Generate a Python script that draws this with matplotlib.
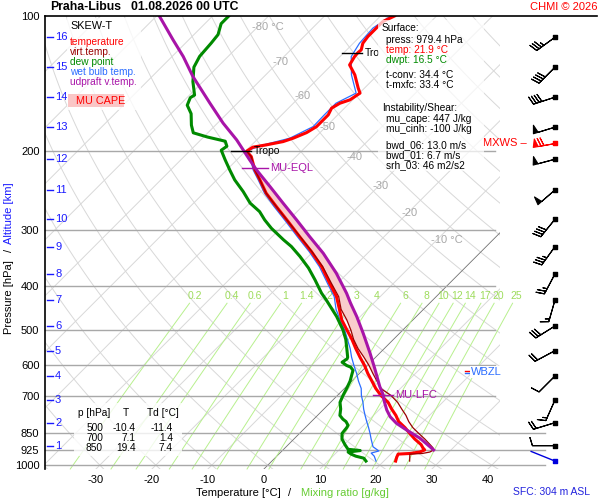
import numpy as np
import matplotlib
matplotlib.use("Agg")
import matplotlib.pyplot as plt
from matplotlib.patches import Rectangle
from matplotlib.transforms import blended_transform_factory

plt.rcParams['font.family'] = ['Liberation Sans', 'DejaVu Sans']

# --- sounding, hPa / degC ---
temp_p = [979.4, 960, 945, 942, 935, 925, 915, 900, 875, 850, 825, 800, 775, 750, 725, 700,
          675, 650, 625, 600, 575, 550, 525, 500, 475, 450, 421.6, 393.6, 361.5, 334.7, 309.9,
          287.0, 265.7, 248.1, 231.7, 220.1, 205.6, 200, 195.9, 193.6, 190.4, 187.1, 181.8,
          176.3, 170.3, 166.0, 160.4, 156.4, 153.7, 148.5, 144.8, 135.2, 128.5, 123.1, 120.6,
          119.0, 115.0, 111.1, 106.4, 102.9, 100]
temp_t = [22.1, 21.6, 21.3, 23.3, 24.8, 25.3, 24.6, 23.7, 21.6, 19.7, 17.8, 15.6, 14.0, 12.1,
          10.3, 7.8, 5.6, 3.6, 1.5, -0.5, -2.8, -5.1, -7.4, -10.0, -12.7, -15.0, -17.8, -21.4,
          -25.8, -30.3, -35.1, -39.8, -44.6, -48.8, -52.3, -55.0, -58.0, -59.8, -59.4, -57.4,
          -55.0, -53.8, -52.4, -51.7, -51.7, -51.7, -52.3, -51.7, -50.5, -49.9, -51.1, -54.1,
          -56.8, -57.4, -57.5, -57.4, -58.3, -58.6, -58.6, -58.6, -57.5]

tv_p = [979.4, 945, 942, 935, 925, 915, 900, 875, 850, 825, 800, 775, 750, 725, 700, 675, 650,
        625, 600, 575, 550, 525, 500, 475, 450, 421.6, 393.6, 361.5, 334.7, 309.9, 287.0, 265.7,
        248.1, 231.7, 220.1, 205.6, 200]
tv_t = [24.6, 23.4, 25.5, 26.6, 26.9, 26.4, 25.3, 23.4, 21.3, 19.2, 17.4, 15.8, 13.9, 12.0, 9.6,
        6.5, 4.5, 2.4, 0.3, -2.1, -4.7, -7.1, -9.3, -11.8, -14.7, -17.4, -21.1, -25.6, -30.2,
        -35.0, -39.8, -44.6, -48.8, -52.3, -55.0, -58.0, -59.8]

dwpt_p = [979.4, 965, 955, 945, 935, 928, 922, 900, 875, 850, 825, 815, 800, 790, 775, 750, 725,
          700, 675, 650, 625, 615, 605, 600, 590, 580, 575, 550, 525, 500, 467, 429, 414, 387,
          364, 343, 326, 315, 297, 284.5, 272.6, 261, 246, 231.7, 220, 209, 199, 195, 190, 186,
          182, 175, 165, 158, 152, 150, 140, 130, 123, 115, 110, 104, 100]
dwpt_t = [16.8, 15.9, 14.1, 12.9, 12.0, 13.9, 11.5, 10.1, 8.6, 7.6, 7.4, 7.2, 6.2, 5.2, 4.0, 3.0,
          1.7, 1.0, 0.4, -0.3, -1.3, -1.7, -2.7, -3.7, -5.1, -4.8, -5.0, -6.7, -8.5, -10.7, -14.2,
          -19.0, -21.1, -24.6, -27.9, -31.5, -34.8, -37.4, -41.6, -44.3, -46.7, -49.9, -53.2,
          -56.8, -59.5, -62.1, -64.5, -64.2, -65.4, -69.3, -72.6, -74.3, -76.4, -78.6, -79.4,
          -79.1, -81.8, -84.2, -85.1, -85.4, -85.7, -87.1, -87.1]

wetb_p = [979.4, 955, 940, 930, 910, 875, 850, 825, 800, 775, 750, 725, 700, 675, 650, 625, 600,
          575, 550, 525, 500, 475, 450, 421.6, 393.6, 361.5, 334.7, 309.9, 287.0, 265.7, 248.1,
          231.7, 220.1, 205.6, 200, 193.6, 187.1, 176.3, 166.0, 156.4, 148.5, 135.2, 123.1,
          115.0, 106.4, 100]
wetb_t = [18.6, 17.4, 16.3, 17.3, 15.5, 13.8, 12.6, 11.3, 9.9, 8.5, 7.1, 5.8, 4.3, 3.0, 1.2,
          -0.5, -2.4, -4.3, -6.1, -8.2, -10.4, -13.0, -15.6, -18.2, -21.8, -26.2, -30.7, -35.5,
          -40.2, -45.0, -49.1, -52.6, -55.3, -58.2, -60.0, -57.9, -54.4, -52.3, -52.4, -52.4,
          -50.6, -54.7, -58.0, -58.9, -59.2, -58.2]

# most unstable parcel, virtual temperature
parc_p = [925, 871.4, 835.1, 806.9, 780.1, 753.7, 716.0, 697.9, 668.8, 608.6, 563.5, 508.6,
          467.1, 436.1, 414.3, 373.9, 337.5, 309.9, 284.5, 261.1, 239.8, 220.1, 209.1, 188.7,
          173.2, 156.4, 136.4, 123.1, 113.0, 100]
parc_t = [26.9, 22.4, 18.5, 15.5, 13.2, 11.4, 9.1, 8.1, 6.0, 1.8, -1.7, -6.5, -10.6, -14.1,
          -16.6, -22.0, -27.9, -33.3, -38.6, -44.0, -49.3, -54.7, -57.7, -63.6, -69.0, -74.9,
          -82.7, -88.0, -92.8, -99.5]

tropo_p = [200, 120.6]
tropo_t = [-59.8, -57.5]
tropo_s = ['Tropo', 'Tro']
lfc_p, eql_p, wbzl_p = 697, 218, 620

# altitude marks (km -> hPa), winds at the same levels
km_lab = list(range(1, 17))
km_p = [905.1, 804.4, 716.0, 633.1, 556.1, 489.9, 428.8, 375.2, 326.2, 283.4, 243.9, 208.4,
        176.8, 151.6, 130.0, 111.5]
wind_dir = [270, 253, 204, 225, 242, 238, 196, 208, 216, 219, 229, 255, 253, 252, 225, 234]
wind_spd = [10, 20, 15, 10, 20, 30, 15, 25, 35, 40, 50, 50, 50, 40, 40, 35]
mxws_p, mxws_dir, mxws_spd = 191.7, 260, 70
sfc_p, sfc_dir = 979.4, 292

isobars = [200, 300, 400, 500, 600, 700, 850, 925, 1000]
mix_w = [0.2, 0.4, 0.6, 1, 1.4, 2, 3, 4, 6, 8, 10, 12, 14, 17, 20, 25]
mix_lab = ['0.2', '0.4', '0.6', '1', '1.4', '2', '3', '4', '6', '8', '10', '12', '14', '17', '20', '25']
iso_t = [-80, -70, -60, -50, -40, -30, -20, -10]
iso_p = [105.7, 126.5, 150.6, 176.6, 205.6, 238.9, 274.4, 315.2]
iso_s = ['-80 °C', '-70', '-60', '-50', '-40', '-30', '-20', '-10 °C']

tab_p = ['500', '700', '850']
tab_t = [-10.4, 7.1, 19.4]
tab_td = [-11.4, 1.4, 7.4]

P_BOT, P_TOP = 1020.0, 100.0
SKEW = 34.8   # degC per unit ln(p): 45 deg


def skx(t, p):
    return np.asarray(t, float) + SKEW * np.log(P_BOT / np.asarray(p, float))


def fpx(x, y):
    return x / 600.0, 1 - y / 500.0


fig = plt.figure(figsize=(6, 5), dpi=100)
ax = fig.add_axes([45 / 600, 31 / 500, 455 / 600, 453 / 500])
ax.set_yscale('log')
ax.set_ylim(P_BOT, P_TOP)
ax.set_xlim(-39.1, 42.15)

# --- background lines ---
pp = np.geomspace(P_BOT, P_TOP, 80)
for t0 in range(-140, 50, 10):
    if t0 == 0:
        ax.plot(skx(np.full_like(pp, t0), pp), pp, color='#707070', lw=0.6, zorder=1.2)
    else:
        ax.plot(skx(np.full_like(pp, t0), pp), pp, color='#d8d8d8', lw=0.7, zorder=1)
for th in range(-40, 230, 10):
    tt = (th + 273.15) * (pp / 1000.0) ** 0.2857 - 273.15
    ax.plot(skx(tt, pp), pp, color='#d8d8d8', lw=0.7, zorder=1)

pm = np.geomspace(P_BOT, 436, 40)
for w, lab in zip(mix_w, mix_lab):
    a = np.log(w * pm / (622.0 + w) / 6.112)
    ax.plot(skx(243.5 * a / (17.67 - a), pm), pm, color='#b8f08e', lw=0.7, zorder=1.5,
            clip_on=False)
    a = np.log(w * 420 / (622.0 + w) / 6.112)
    ax.text(skx(243.5 * a / (17.67 - a), 420), 420, lab, color='#9edc5c', fontsize=7.5,
            ha='center', va='center', clip_on=False)

for p in isobars:
    xmax = 1.099 if p >= 850 else 0.989
    ax.axhline(p, 0, xmax, color='#a8a8a8', lw=1, zorder=1.6, clip_on=False)

for t, p, s in zip(iso_t, iso_p, iso_s):
    ax.annotate(s, (skx(t, p), p), xytext=(-4.3, 0), textcoords='offset points',
                ha='left', va='center', color='#a8a8a8', fontsize=8)

# --- CAPE shading ---
pg = np.geomspace(lfc_p, eql_p, 120)
env = np.interp(np.log(pg), np.log(tv_p[::-1]), tv_t[::-1])
par = np.interp(np.log(pg), np.log(parc_p[::-1]), parc_t[::-1])
ax.fill_betweenx(pg, skx(env, pg), skx(par, pg), where=par >= env, interpolate=True,
                 color='#f9cccc', lw=0, zorder=2)

# --- profiles ---
ax.plot(skx(wetb_t, wetb_p), wetb_p, color='#2b6dff', lw=0.9, zorder=3)
ax.plot(skx(dwpt_t, dwpt_p), dwpt_p, color='#008a00', lw=2.2, zorder=4)
ax.plot(skx(temp_t, temp_p), temp_p, color='#ff0000', lw=2.2, zorder=4)
ax.plot(skx(tv_t, tv_p), tv_p, color='#990000', lw=0.9, zorder=5)
ax.plot(skx(parc_t, parc_p), parc_p, color='#a814a8', lw=2.2, zorder=5)

# tropopause, LFC, EQL markers
for p, t, s in zip(tropo_p, tropo_t, tropo_s):
    x = skx(t, p)
    ax.plot([x - 2.86, x + 0.7], [p, p], color='k', lw=1, zorder=6)
    ax.annotate(s, (x, p), xytext=(5, 0), textcoords='offset points',
                ha='left', va='center', fontsize=7.5, zorder=6)
for p, lab, dx in [(eql_p, 'MU-EQL', 2.3), (lfc_p, 'MU-LFC', 1.8)]:
    x = skx(np.interp(np.log(p), np.log(parc_p[::-1]), parc_t[::-1]), p)
    ax.plot([x - dx, x + dx], [p, p], color='#a814a8', lw=1, zorder=6)
    ax.annotate(lab, (x + dx, p), xytext=(1.5, 0), textcoords='offset points',
                ha='left', va='center', fontsize=8, color='#a814a8', zorder=6)

bt = blended_transform_factory(ax.transAxes, ax.transData)
ax.plot([0.923, 0.934], [wbzl_p * 0.997] * 2, color='red', lw=1, transform=bt, zorder=6)
ax.plot([0.923, 0.934], [wbzl_p * 1.004] * 2, color='#2b6dff', lw=1, transform=bt, zorder=6)
ax.text(0.937, wbzl_p, 'WBZL', transform=bt, color='#2b6dff', fontsize=8, va='center',
        ha='left', zorder=6, clip_on=False,
        bbox=dict(facecolor='white', edgecolor='none', pad=1.0))

# altitude ticks
for k, p in zip(km_lab, km_p):
    ax.plot([0.004, 0.017], [p, p], color='#1a1aff', lw=1, transform=bt, zorder=6)
    ax.text(0.022, p, str(k), transform=bt, color='#1a1aff', fontsize=8, va='center',
            ha='left', zorder=6)

# axes styling
ax.set_yticks([100] + isobars)
ax.set_yticklabels(['100'] + [str(p) for p in isobars])
ax.yaxis.set_minor_locator(matplotlib.ticker.NullLocator())
ax.set_xticks(range(-30, 50, 10))
ax.set_xticklabels([str(t) for t in range(-30, 50, 10)])
ax.tick_params(axis='both', length=0, labelsize=8)
ax.tick_params(axis='y', pad=4)
ax.tick_params(axis='x', pad=4)
for s in ['top', 'right', 'bottom']:
    ax.spines[s].set_visible(False)
ax.spines['left'].set_linewidth(1.2)
fig.add_artist(plt.Line2D([45 / 600, 597 / 600], [1 - 16 / 500] * 2, color='k', lw=1.2))

# --- wind barbs ---
bx = fig.add_axes([500 / 600, 31 / 500, 100 / 600, 453 / 500])
bx.set_yscale('log')
bx.set_ylim(P_BOT, P_TOP)
bx.set_xlim(0, 1)
bx.axis('off')
BL = 5.7
bsz = dict(spacing=0.13, height=0.36, width=0.22)
rad = np.deg2rad(wind_dir)
spd = np.array(wind_spd, float)
bx.barbs(np.full(len(km_p), 0.55), km_p, -spd * np.sin(rad), -spd * np.cos(rad),
         length=BL, sizes=bsz, lw=0.8, color='k', zorder=5)
bx.scatter(np.full(len(km_p), 0.55), km_p, marker='s', s=5, color='k', zorder=6)
r = np.deg2rad(mxws_dir)
bx.barbs([0.55], [mxws_p], [-mxws_spd * np.sin(r)], [-mxws_spd * np.cos(r)],
         length=BL, sizes=bsz, lw=0.8, color='red', zorder=5)
bx.scatter([0.55], [mxws_p], marker='s', s=5, color='red', zorder=6)
bx.text(-0.17, mxws_p, 'MXWS \u2013', color='red', fontsize=8, va='center', ha='left',
        clip_on=False)
r = np.deg2rad(sfc_dir)
bx.annotate('', xy=(0.55, sfc_p), xytext=(18.7 * np.sin(r), 18.7 * np.cos(r)),
            textcoords='offset points',
            arrowprops=dict(arrowstyle='-', color='#0000dd', lw=1, shrinkA=0, shrinkB=0))
bx.scatter([0.55], [sfc_p], marker='s', s=5, color='#0000dd', zorder=6)

# --- boxes and texts ---
def box(x0, y0, x1, y1, fc='white', alpha=0.8):
    fig.add_artist(Rectangle(fpx(x0, y1), (x1 - x0) / 600, (y1 - y0) / 500, facecolor=fc,
                             edgecolor='none', alpha=alpha, zorder=3))


def ftxt(x, y, s, **kw):
    kw.setdefault('fontsize', 7.3)
    kw.setdefault('va', 'center')
    kw.setdefault('ha', 'left')
    fig.text(*fpx(x, y), s, zorder=4, **kw)


box(67, 18, 141, 110)
box(68, 94, 124, 107, fc='#fac6c6', alpha=1)
ftxt(70, 26, 'SKEW-T', fontsize=7.8)
for i, (s, c) in enumerate([('temperature', 'red'), ('virt.temp.', '#990000'),
                            ('dew point', '#008a00'), ('wet bulb temp.', '#2b6dff'),
                            ('udpraft v.temp.', '#a814a8')]):
    ftxt(70, 42 + 10 * i, s, color=c)
ftxt(76, 101, 'MU CAPE', color='red', fontsize=7.8)

box(378, 20, 484, 171, alpha=0.72)
ftxt(382, 28, 'Surface:')
ftxt(386, 40, 'press: 979.4 hPa')
ftxt(386, 50, 'temp: 21.9 °C', color='red')
ftxt(386, 60, 'dwpt: 16.5 °C', color='#008a00')
ftxt(386, 75, 't-conv: 34.4 °C')
ftxt(386, 85, 't-mxfc: 33.4 °C')
ftxt(382, 108, 'Instability/Shear:')
ftxt(386, 119, 'mu_cape: 447 J/kg')
ftxt(386, 129, 'mu_cinh: -100 J/kg')
ftxt(386, 145, 'bwd_06: 13.0 m/s')
ftxt(386, 155, 'bwd_01: 6.7 m/s')
ftxt(386, 165, 'srh_03: 46 m2/s2')

box(74, 403, 182, 456)
ftxt(78, 413, 'p [hPa]')
ftxt(126, 413, 'T', ha='center')
ftxt(147, 413, 'Td [°C]')
for i, (p, t, td) in enumerate(zip(tab_p, tab_t, tab_td)):
    y = 428 + 10 * i
    ftxt(103, y, p, ha='right')
    ftxt(136, y, f'{t:.1f}', ha='right')
    ftxt(173, y, f'{td:.1f}', ha='right')

ftxt(50, 7, 'Praha-Libus', fontsize=8.8, fontweight='bold')
ftxt(131, 7, '01.08.2026 00 UTC', fontsize=8.8, fontweight='bold')
ftxt(597, 7, 'CHMI © 2026', ha='right', color='red', fontsize=8)
ftxt(590, 492, 'SFC: 304 m ASL', ha='right', color='#2222dd', fontsize=7.5)

ftxt(238, 493, 'Temperature [°C]', ha='center', fontsize=8)
ftxt(290, 493, '/', ha='center', fontsize=8)
ftxt(345, 493, 'Mixing ratio [g/kg]', ha='center', fontsize=8, color='#66cc33')
ftxt(9, 297, 'Pressure [hPa]', ha='center', fontsize=8, rotation=90)
ftxt(9, 250, '/', ha='center', fontsize=8, rotation=90)
ftxt(9, 213, 'Altitude [km]', ha='center', fontsize=8, rotation=90, color='#1a1aff')

fig.savefig('out.png', dpi=100, facecolor='white')
